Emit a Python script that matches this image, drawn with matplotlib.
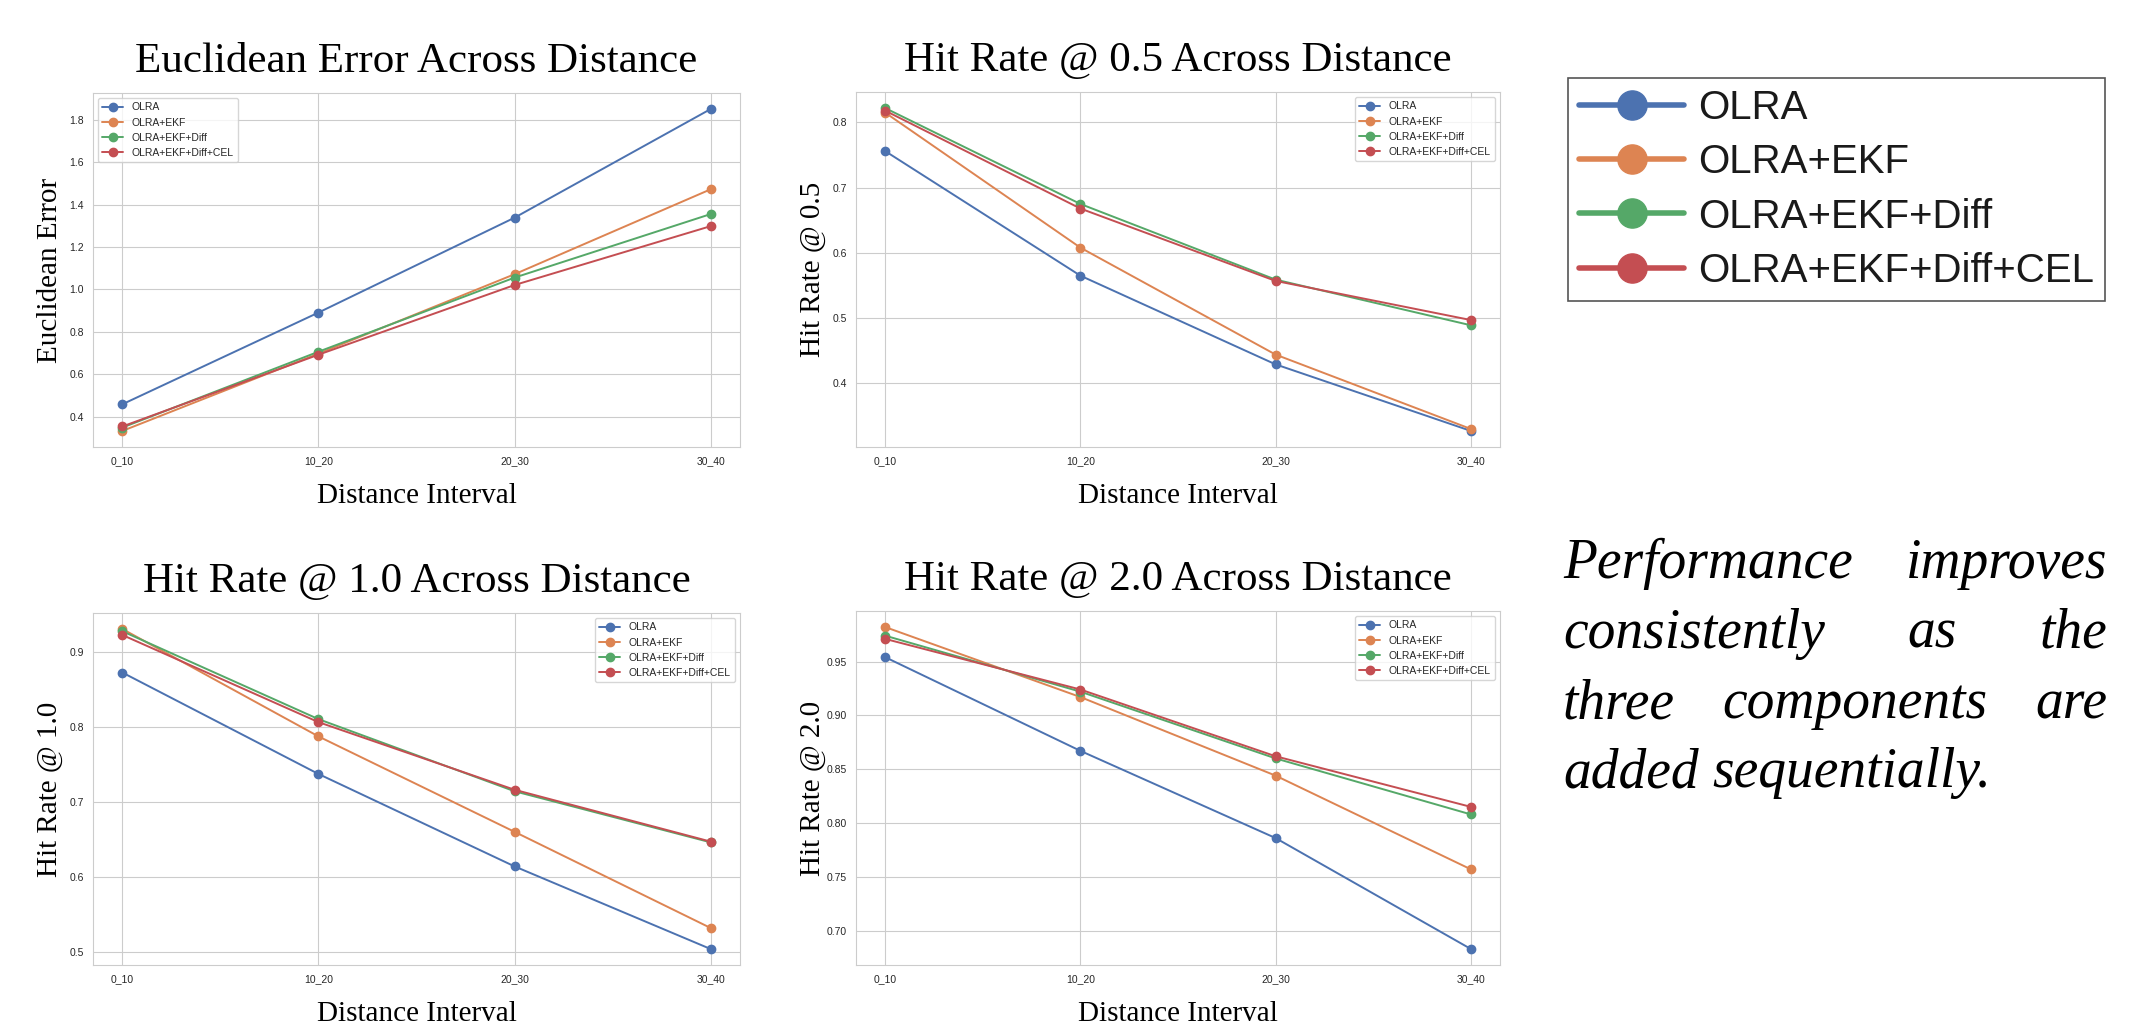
import numpy as np
import matplotlib
matplotlib.use('Agg')
import matplotlib.pyplot as plt
from matplotlib.lines import Line2D
from matplotlib import font_manager
import seaborn as sns

# ---- data ----
intervals = ['0_10', '10_20', '20_30', '30_40']
methods = ['OLRA', 'OLRA+EKF', 'OLRA+EKF+Diff', 'OLRA+EKF+Diff+CEL']

euclid_olra = [0.458, 0.891, 1.339, 1.852]
euclid_ekf = [0.332, 0.697, 1.072, 1.473]
euclid_diff = [0.348, 0.706, 1.056, 1.356]
euclid_cel = [0.353, 0.692, 1.021, 1.299]

hit05_olra = [0.756, 0.565, 0.429, 0.327]
hit05_ekf = [0.815, 0.608, 0.444, 0.330]
hit05_diff = [0.822, 0.675, 0.559, 0.489]
hit05_cel = [0.818, 0.668, 0.557, 0.497]

hit10_olra = [0.872, 0.737, 0.614, 0.504]
hit10_ekf = [0.930, 0.787, 0.660, 0.532]
hit10_diff = [0.927, 0.810, 0.714, 0.646]
hit10_cel = [0.922, 0.806, 0.716, 0.647]

hit20_olra = [0.954, 0.867, 0.786, 0.683]
hit20_ekf = [0.982, 0.917, 0.844, 0.757]
hit20_diff = [0.974, 0.922, 0.860, 0.808]
hit20_cel = [0.971, 0.924, 0.862, 0.815]

note_lines = ['Performance improves',
              'consistently as the',
              'three components are',
              'added sequentially.']

sns.set_style('whitegrid')
plt.rcParams['font.family'] = ['Liberation Sans', 'DejaVu Sans']
colors = sns.color_palette('deep')[:4]
serif = ['Liberation Serif', 'DejaVu Serif']

# make sure an italic serif face really exists
it_path = font_manager.findfont(font_manager.FontProperties(family='Liberation Serif', style='italic'))
if 'italic' in it_path.lower():
    it_font = font_manager.FontProperties(fname=it_path, size=40)
else:
    it_font = font_manager.FontProperties(family='DejaVu Serif', style='italic', size=38)

W, H = 2144, 1022
fig = plt.figure(figsize=(W / 100, H / 100), dpi=100)


def px_box(l, r, t, b):
    # pixel box -> figure fraction rect
    return [l / W, 1 - b / H, (r - l) / W, (b - t) / H]


panels = [
    (px_box(93, 740, 93, 447), 'Euclidean Error Across Distance', 'Euclidean Error',
     [euclid_olra, euclid_ekf, euclid_diff, euclid_cel], 'upper left'),
    (px_box(856, 1500, 92, 447), 'Hit Rate @ 0.5 Across Distance', 'Hit Rate @ 0.5',
     [hit05_olra, hit05_ekf, hit05_diff, hit05_cel], 'upper right'),
    (px_box(93, 740, 613, 965), 'Hit Rate @ 1.0 Across Distance', 'Hit Rate @ 1.0',
     [hit10_olra, hit10_ekf, hit10_diff, hit10_cel], 'upper right'),
    (px_box(856, 1500, 611, 965), 'Hit Rate @ 2.0 Across Distance', 'Hit Rate @ 2.0',
     [hit20_olra, hit20_ekf, hit20_diff, hit20_cel], 'upper right'),
]

x = np.arange(len(intervals))
for rect, title, ylab, series, loc in panels:
    ax = fig.add_axes(rect)
    for name, vals, c in zip(methods, series, colors):
        ax.plot(x, vals, marker='o', color=c, lw=1.4, ms=6, label=name)
    ax.set_xticks(x)
    ax.set_xticklabels(intervals)
    ax.tick_params(labelsize=7.5, pad=3)
    ax.set_title(title, family=serif, fontsize=31, pad=15, color='black')
    ax.set_ylabel(ylab, family=serif, fontsize=21, color='black')
    ax.set_xlabel('Distance Interval', family=serif, fontsize=21, color='black')
    hpx = rect[3] * H
    wpx = rect[2] * W
    ax.yaxis.set_label_coords(-30 / wpx, 0.5)
    ax.xaxis.set_label_coords(0.5, -36 / hpx)
    ax.legend(loc=loc, fontsize=7.5)

# big legend on the right
handles = [Line2D([], [], color=c, marker='o', ms=21, lw=4) for c in colors]
leg = fig.legend(handles, methods, loc='upper left',
                 bbox_to_anchor=(1568 / W, 1 - 78 / H), bbox_transform=fig.transFigure,
                 fontsize=29, handlelength=2.6, labelspacing=0.40, handletextpad=0.35,
                 borderpad=0.28, borderaxespad=0, fancybox=False, framealpha=1,
                 edgecolor='#555555')
leg.get_frame().set_linewidth(1.2)
for t in leg.get_texts():
    t.set_color('#1a1a1a')

# justified italic note
fig.canvas.draw()
r = fig.canvas.get_renderer()
left, right = 1563, 2107
base = [578, 648, 718, 787]
for i, line in enumerate(note_lines):
    words = line.split()
    ts = [fig.text(0, 0, w, fontproperties=it_font, va='baseline', color='black')
          for w in words]
    ws = [t.get_window_extent(r).width for t in ts]
    if i == len(note_lines) - 1:
        gap = 0.25 * it_font.get_size_in_points() * 100 / 72
    else:
        gap = (right - left - sum(ws)) / (len(words) - 1)
    xp = left
    for t, w in zip(ts, ws):
        t.set_position((xp / W, 1 - base[i] / H))
        xp += w + gap

fig.savefig('out.png', dpi=100)
